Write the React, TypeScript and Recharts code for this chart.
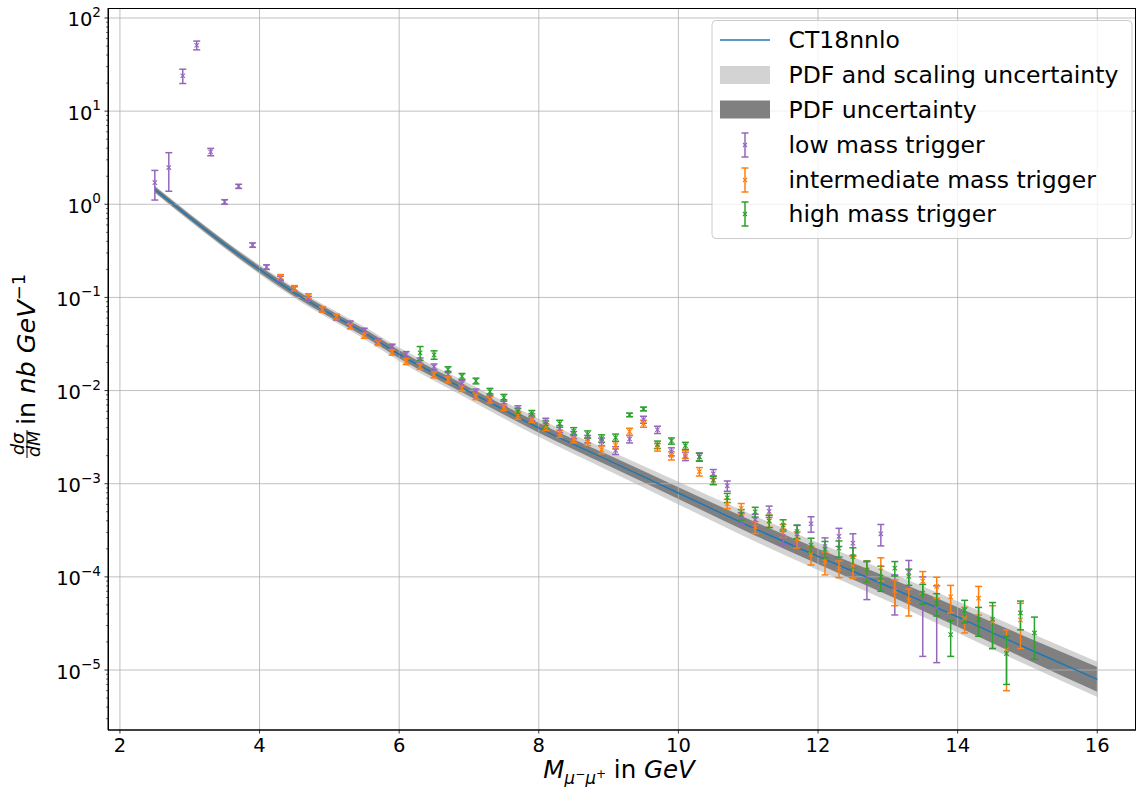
import React from 'react'
import { ComposedChart, XAxis, YAxis, Area, Line, Scatter, ErrorBar, ReferenceLine } from 'recharts'

const FONT = "'DejaVu Sans', sans-serif"
const BLUE = '#1f77b4'
const ORANGE = '#ff7f0e'
const GREEN = '#2ca02c'
const PURPLE = '#9467bd'
const GRID = '#b0b0b0'

// axis ticks
const xTicks = [2, 4, 6, 8, 10, 12, 14, 16]
const yMajor = [1e-5, 1e-4, 1e-3, 1e-2, 1e-1, 1, 10, 100]
const xDomain = [1.829, 16.555]
const yDomain = [2.27e-6, 128]

// CT18nnlo prediction with PDF band and PDF + scale band
const theoryMass = [2.5, 3, 3.5, 4, 4.5, 5, 5.5, 6, 7, 8, 9, 10, 11, 12, 13, 14, 15, 16]
const theoryCentral = [1.445, 0.724, 0.3715, 0.1995, 0.1122, 0.0676, 0.0417, 0.02455, 0.00977, 0.00398, 0.001778, 7.94e-4, 3.55e-4, 1.66e-4, 7.94e-5, 3.72e-5, 1.7e-5, 7.94e-6]
const pdfLow = [1.349, 0.676, 0.345, 0.184, 0.103, 0.0619, 0.038, 0.02228, 0.00877, 0.003524, 0.001556, 6.87e-4, 3.01e-4, 1.374e-4, 6.38e-5, 2.92e-5, 1.29e-5, 5.83e-6]
const pdfHigh = [1.549, 0.776, 0.4, 0.216, 0.1222, 0.0738, 0.0457, 0.02704, 0.01089, 0.004498, 0.002032, 9.18e-4, 4.19e-4, 2.0e-4, 9.89e-5, 4.73e-5, 2.24e-5, 1.08e-5]
const totLow = [1.318, 0.658, 0.335, 0.1778, 0.0989, 0.0589, 0.0358, 0.0208, 0.00804, 0.003184, 0.00138, 6.0e-4, 2.6e-4, 1.186e-4, 5.52e-5, 2.52e-5, 1.122e-5, 5.13e-6]
const totHigh = [1.585, 0.798, 0.412, 0.2239, 0.1274, 0.0776, 0.0485, 0.029, 0.01189, 0.004977, 0.002291, 1.052e-3, 4.84e-4, 2.32e-4, 1.143e-4, 5.47e-5, 2.57e-5, 1.23e-5]

// low mass trigger
const lowMass = [2.5, 2.7, 2.9, 3.1, 3.3, 3.5, 3.7, 3.9, 4.1, 4.3, 4.5, 4.7, 4.9, 5.1, 5.3, 5.5, 5.7, 5.9, 6.1, 6.3, 6.5, 6.7, 6.9, 7.1, 7.3, 7.5, 7.7, 7.9, 8.1, 8.3, 8.5, 8.7, 8.9, 9.1, 9.3, 9.5, 9.7, 9.9, 10.1, 10.3, 10.5, 10.7, 10.9, 11.1, 11.3, 11.5, 11.7, 11.9, 12.1, 12.3, 12.5, 12.7, 12.9, 13.1, 13.3, 13.5, 13.7]
const lowVal = [1.71, 2.48, 24, 51, 3.65, 1.06, 1.56, 0.365, 0.212, 0.16, 0.124, 0.097, 0.074, 0.061, 0.0525, 0.0439, 0.0337, 0.0295, 0.0245, 0.0209, 0.018, 0.015, 0.0119, 0.0096, 0.00855, 0.00737, 0.00635, 0.00521, 0.00464, 0.00387, 0.00334, 0.00302, 0.00283, 0.00228, 0.00302, 0.00488, 0.0038, 0.00221, 0.00197, 0.00194, 0.00128, 0.00095, 0.00043, 0.00041, 0.000505, 0.000272, 0.00029, 0.000372, 0.000212, 0.000272, 0.00023, 0.000101, 0.00029, 0.000072, 0.000112, 0.000057, 0.000046]
const lowErr = [0.6, 1.1, 4.2, 5.5, 0.33, 0.06, 0.08, 0.02, 0.012, 0.009, 0.007, 0.006, 0.0045, 0.0038, 0.0033, 0.0028, 0.0022, 0.002, 0.0017, 0.0015, 0.0013, 0.0011, 0.0009, 0.0008, 0.0007, 0.0006, 0.00052, 0.00044, 0.0004, 0.00034, 0.0003, 0.00028, 0.00026, 0.00022, 0.00028, 0.00042, 0.00034, 0.00022, 0.0002, 0.0002, 0.00014, 0.00012, 0.00006, 0.00006, 0.00007, 0.00005, 0.00007, 0.00007, 0.00005, 0.00006, 0.00006, 0.000044, 0.000075, 0.000033, 0.000038, 0.000043, 0.000034]

// intermediate mass trigger
const midMass = [4.3, 4.5, 4.7, 4.9, 5.1, 5.3, 5.5, 5.7, 5.9, 6.1, 6.3, 6.5, 6.7, 6.9, 7.1, 7.3, 7.5, 7.7, 7.9, 8.1, 8.3, 8.5, 8.7, 8.9, 9.1, 9.3, 9.5, 9.7, 9.9, 10.1, 10.3, 10.5, 10.7, 10.9, 11.1, 11.3, 11.5, 11.7, 11.9, 12.1, 12.3, 12.5, 12.7, 12.9, 13.1, 13.3, 13.5, 13.7, 13.9, 14.1, 14.3, 14.5, 14.7, 14.9]
const midVal = [0.166, 0.126, 0.103, 0.0743, 0.062, 0.0492, 0.039, 0.0326, 0.0258, 0.0205, 0.0182, 0.0148, 0.0131, 0.0106, 0.0087, 0.008, 0.00667, 0.00538, 0.00496, 0.00407, 0.00345, 0.00302, 0.00283, 0.00232, 0.0026, 0.00362, 0.00442, 0.00247, 0.002, 0.00207, 0.00135, 0.0011, 0.00061, 0.000543, 0.000342, 0.0004, 0.000315, 0.000254, 0.000174, 0.000145, 0.000123, 0.000131, 0.000118, 0.000125, 0.000071, 0.000056, 0.00009, 0.000079, 0.000061, 0.000036, 0.000059, 0.000033, 0.0000165, 0.0000345]
const midErr = [0.01, 0.008, 0.0065, 0.0048, 0.004, 0.0032, 0.0026, 0.0022, 0.0018, 0.0015, 0.0013, 0.0011, 0.001, 0.0008, 0.0007, 0.00065, 0.00055, 0.00045, 0.00042, 0.00035, 0.0003, 0.00027, 0.00026, 0.00022, 0.00024, 0.00032, 0.00038, 0.00023, 0.0002, 0.0002, 0.00014, 0.00012, 0.00007, 0.00007, 0.00005, 0.00006, 0.00005, 0.00005, 0.00004, 0.00004, 0.000025, 0.000035, 0.00003, 0.000035, 0.000022, 0.000018, 0.000024, 0.00002, 0.00002, 0.000011, 0.00002, 0.000016, 0.0000105, 0.0000175]

// high mass trigger
const highMass = [6.3, 6.5, 6.7, 6.9, 7.1, 7.3, 7.5, 7.7, 7.9, 8.1, 8.3, 8.5, 8.7, 8.9, 9.1, 9.3, 9.5, 9.7, 9.9, 10.1, 10.3, 10.5, 10.7, 10.9, 11.1, 11.3, 11.5, 11.7, 11.9, 12.1, 12.3, 12.5, 12.7, 12.9, 13.1, 13.3, 13.5, 13.7, 13.9, 14.1, 14.3, 14.5, 14.7, 14.9, 15.1]
const highVal = [0.0254, 0.0242, 0.0168, 0.01425, 0.0127, 0.00975, 0.0084, 0.00594, 0.00566, 0.00434, 0.00442, 0.00368, 0.00339, 0.00307, 0.00313, 0.00548, 0.00635, 0.00263, 0.00288, 0.00256, 0.00194, 0.00109, 0.000707, 0.000468, 0.000498, 0.000398, 0.00036, 0.000307, 0.00022, 0.0002, 0.000203, 0.000165, 0.000118, 0.0001, 0.000124, 0.000101, 0.000067, 0.000052, 0.000024, 0.000044, 0.000035, 0.000035, 0.000015, 0.000041, 0.000025]
const highErr = [0.0043, 0.0025, 0.0012, 0.001, 0.0009, 0.0008, 0.0007, 0.0005, 0.00045, 0.00038, 0.00038, 0.00032, 0.0003, 0.00028, 0.00028, 0.00025, 0.0003, 0.00024, 0.00022, 0.00022, 0.00018, 0.00011, 0.00008, 0.00006, 0.00006, 0.00006, 0.00005, 0.00005, 0.00004, 0.00004, 0.00004, 0.00004, 0.00003, 0.00003, 0.000022, 0.00002, 0.000016, 0.000014, 0.00001, 0.000012, 0.000012, 0.000018, 0.000008, 0.000014, 0.000012]

const legendLabels = ['CT18nnlo', 'PDF and scaling uncertainty', 'PDF uncertainty', 'low mass trigger', 'intermediate mass trigger', 'high mass trigger']

const theory = theoryMass.map((m, i) => ({
  m,
  c: theoryCentral[i],
  pdf: [pdfLow[i], pdfHigh[i]],
  tot: [totLow[i], totHigh[i]],
}))
const toPoints = (ms: number[], vs: number[], es: number[]) => ms.map((m, i) => ({ m, v: vs[i], e: es[i] }))
const lowData = toPoints(lowMass, lowVal, lowErr)
const midData = toPoints(midMass, midVal, midErr)
const highData = toPoints(highMass, highVal, highErr)

// minor ticks of the log axis
const yMinor: number[] = []
for (let p = -6; p <= 2; p++) {
  for (let k = 2; k <= 9; k++) {
    const v = k * Math.pow(10, p)
    if (v > yDomain[0] && v < yDomain[1]) yMinor.push(v)
  }
}
const yTicks = [...yMajor, ...yMinor].sort((a, b) => a - b)

const XMark = (color: string) => (props: any) => {
  const { cx, cy } = props
  if (cx == null || cy == null) return <g />
  const s = 2.2
  return (
    <path
      d={`M${cx - s},${cy - s}L${cx + s},${cy + s}M${cx - s},${cy + s}L${cx + s},${cy - s}`}
      stroke={color}
      strokeWidth={1.1}
      fill="none"
    />
  )
}

const XTick = ({ x, y, payload }: any) => (
  <g>
    <line x1={x} x2={x} y1={y} y2={y + 3.5} stroke="#000" strokeWidth={0.8} />
    <text x={x} y={y + 21.5} textAnchor="middle" fontSize={19.5} fontFamily={FONT} fill="#000">
      {payload.value}
    </text>
  </g>
)

const YTick = ({ x, y, payload }: any) => {
  const v = payload.value
  if (!yMajor.includes(v)) {
    return <line x1={x} x2={x - 2} y1={y} y2={y} stroke="#000" strokeWidth={0.6} />
  }
  const exp = Math.round(Math.log10(v))
  return (
    <g>
      <line x1={x} x2={x - 3.5} y1={y} y2={y} stroke="#000" strokeWidth={0.8} />
      <text x={x - 7} y={y + 8.5} textAnchor="end" fontSize={19.5} fontFamily={FONT} fill="#000">
        10
        <tspan fontSize={13.6} dy={-9.5}>{exp < 0 ? `\u2212${-exp}` : `${exp}`}</tspan>
      </text>
    </g>
  )
}

const XLabel = ({ viewBox }: any) => {
  const cx = viewBox.x + viewBox.width / 2
  return (
    <text x={cx - 3} y={778} textAnchor="middle" fontSize={24.5} fontFamily={FONT} fill="#000" style={{ whiteSpace: 'pre' }}>
      <tspan fontStyle="italic">M</tspan>
      <tspan fontStyle="italic" fontSize={17} dy={6}>μ</tspan>
      <tspan fontSize={12} dy={-6}>−</tspan>
      <tspan fontStyle="italic" fontSize={17} dy={6}>μ</tspan>
      <tspan fontSize={12} dy={-6}>+</tspan>
      <tspan>{' in '}</tspan>
      <tspan fontStyle="italic">GeV</tspan>
    </text>
  )
}

const YLabel = ({ viewBox }: any) => {
  const cy = viewBox.y + viewBox.height / 2
  return (
    <g transform={`translate(35, ${cy}) rotate(-90)`} fontFamily={FONT} fill="#000">
      <text x={-75} y={-11} textAnchor="middle" fontSize={17.5} fontStyle="italic">dσ</text>
      <line x1={-89} x2={-61} y1={-8} y2={-8} stroke="#000" strokeWidth={1} />
      <text x={-75} y={5} textAnchor="middle" fontSize={17.5} fontStyle="italic">dM</text>
      <text x={-56} y={0} fontSize={25.5} style={{ whiteSpace: 'pre' }}>
        <tspan>{'in '}</tspan>
        <tspan fontStyle="italic">{'nb GeV'}</tspan>
        <tspan fontSize={18} dy={-10}>−1</tspan>
      </text>
    </g>
  )
}

const ErrHandle = ({ x, y, color }: { x: number; y: number; color: string }) => (
  <g stroke={color} strokeWidth={1.5} fill="none">
    <line x1={x} x2={x} y1={y - 12} y2={y + 12} />
    <line x1={x - 3.5} x2={x + 3.5} y1={y - 12} y2={y - 12} />
    <line x1={x - 3.5} x2={x + 3.5} y1={y + 12} y2={y + 12} />
    <path d={`M${x - 2},${y - 2}L${x + 2},${y + 2}M${x - 2},${y + 2}L${x + 2},${y - 2}`} strokeWidth={1.1} />
  </g>
)

function LegendBox() {
  const rows = [40, 75, 109.5, 145, 180, 214]
  return (
    <svg width={1137} height={787} style={{ position: 'absolute', left: 0, top: 0, pointerEvents: 'none' }}>
      <rect x={108.5} y={8.5} width={1027} height={721.5} fill="none" stroke="#000" strokeWidth={1} />
      <rect x={712} y={20.5} width={420} height={218} rx={4} fill="#fff" fillOpacity={0.8} stroke="#cccccc" />
      <line x1={720} x2={770} y1={rows[0]} y2={rows[0]} stroke={BLUE} strokeWidth={1.5} />
      <rect x={720} y={rows[1] - 9} width={50} height={18} fill="#d3d3d3" />
      <rect x={720} y={rows[2] - 9} width={50} height={18} fill="#808080" />
      <ErrHandle x={745} y={rows[3]} color={PURPLE} />
      <ErrHandle x={745} y={rows[4]} color={ORANGE} />
      <ErrHandle x={745} y={rows[5]} color={GREEN} />
      {legendLabels.map((t, i) => (
        <text key={t} x={788.5} y={rows[i] + 8.3} fontSize={23.5} fontFamily={FONT} fill="#000">
          {t}
        </text>
      ))}
    </svg>
  )
}

export default function App() {
  return (
    <div style={{ position: 'absolute', left: 0, top: 0, width: 1137, height: 787, background: '#fff' }}>
      <ComposedChart width={1137} height={787} margin={{ top: 8, right: 1, bottom: 0, left: 0 }}>
        <XAxis
          dataKey="m"
          type="number"
          domain={xDomain}
          allowDataOverflow
          ticks={xTicks}
          interval={0}
          height={57}
          tickSize={0}
          tickMargin={0}
          tick={XTick}
          tickLine={false}
          axisLine={{ stroke: '#000', strokeWidth: 1 }}
          label={<XLabel />}
        />
        <XAxis xAxisId="top" orientation="top" type="number" domain={xDomain} height={0} tick={false} tickLine={false} axisLine={{ stroke: '#000', strokeWidth: 1 }} />
        <YAxis
          dataKey="v"
          type="number"
          scale="log"
          domain={yDomain}
          allowDataOverflow
          ticks={yTicks}
          interval={0}
          width={108}
          tickSize={0}
          tickMargin={0}
          tick={YTick}
          tickLine={false}
          axisLine={{ stroke: '#000', strokeWidth: 1 }}
          label={<YLabel />}
        />
        <YAxis yAxisId="right" orientation="right" type="number" domain={[0, 1]} width={0} tick={false} tickLine={false} axisLine={{ stroke: '#000', strokeWidth: 1 }} />

        <Area data={theory} dataKey="tot" type="monotone" stroke="none" fill="#d3d3d3" fillOpacity={1} isAnimationActive={false} />
        <Area data={theory} dataKey="pdf" type="monotone" stroke="none" fill="#808080" fillOpacity={1} isAnimationActive={false} />

        {xTicks.map((t) => (
          <ReferenceLine key={`gx${t}`} x={t} stroke={GRID} strokeWidth={0.8} />
        ))}
        {yMajor.map((t) => (
          <ReferenceLine key={`gy${t}`} y={t} stroke={GRID} strokeWidth={0.8} />
        ))}

        <Line data={theory} dataKey="c" type="monotone" stroke={BLUE} strokeWidth={1.5} dot={false} isAnimationActive={false} />

        <Scatter data={lowData} dataKey="v" shape={XMark(PURPLE)} isAnimationActive={false}>
          <ErrorBar dataKey="e" direction="y" width={3.5} stroke={PURPLE} strokeWidth={1.5} isAnimationActive={false} />
        </Scatter>
        <Scatter data={midData} dataKey="v" shape={XMark(ORANGE)} isAnimationActive={false}>
          <ErrorBar dataKey="e" direction="y" width={3.5} stroke={ORANGE} strokeWidth={1.5} isAnimationActive={false} />
        </Scatter>
        <Scatter data={highData} dataKey="v" shape={XMark(GREEN)} isAnimationActive={false}>
          <ErrorBar dataKey="e" direction="y" width={3.5} stroke={GREEN} strokeWidth={1.5} isAnimationActive={false} />
        </Scatter>
      </ComposedChart>
      <LegendBox />
    </div>
  )
}
